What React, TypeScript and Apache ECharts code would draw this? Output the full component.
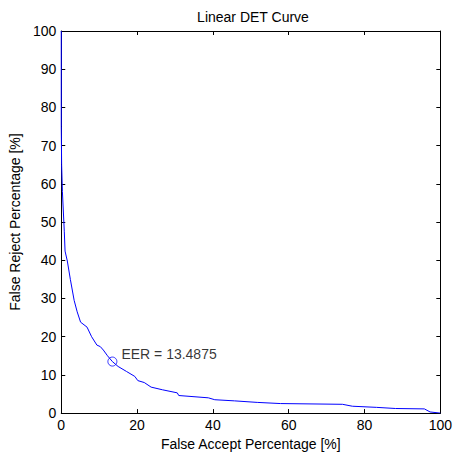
import React, { useEffect, useRef } from "react";
import * as echarts from "echarts";

const falseAccept = [0, 0, 0.1, 0.3, 0.8, 1.0, 1.6, 2.4, 3.4, 4.2, 5.1, 6.8, 8.0, 9.4, 10.3, 11.1, 12.2, 13.4875, 15.0, 17.2, 19.4, 20.2, 21.9, 23.7, 26.7, 30.6, 31.0, 38.8, 40.5, 45.7, 51.7, 57.8, 74.2, 76.8, 83.2, 88.2, 95.8, 97.3, 100];
const falseReject = [100, 75, 65, 58, 47.6, 42.4, 39.8, 35, 29.5, 26.5, 23.8, 22.5, 20, 17.8, 17.4, 16.5, 15, 13.4875, 12.2, 10.9, 9.6, 8.5, 8.0, 6.8, 6.1, 5.3, 4.6, 4.0, 3.5, 3.2, 2.8, 2.5, 2.3, 1.8, 1.5, 1.2, 1.1, 0.3, 0];
const eerValue = 13.4875;
const titleText = "Linear DET Curve";
const xName = "False Accept Percentage [%]";
const yName = "False Reject Percentage [%]";

const FONT = "'Liberation Sans', Arial, Helvetica, sans-serif";

export default function App() {
  const ref = useRef<HTMLDivElement>(null);
  useEffect(() => {
    if (!ref.current) return;
    const chart = echarts.init(ref.current, undefined, { renderer: "svg" });
    const axisCommon = {
      type: "value" as const,
      min: 0,
      max: 100,
      splitLine: { show: false },
      axisLine: { show: true, onZero: false, lineStyle: { color: "#000", width: 1 } },
      axisTick: { show: true, inside: true, length: 4, lineStyle: { color: "#000", width: 1 } },
    };
    chart.setOption({
      animation: false,
      textStyle: { fontFamily: FONT },
      title: {
        text: titleText,
        left: 248,
        top: 5,
        textAlign: "center",
        textStyle: { fontSize: 14, fontWeight: "normal", color: "#000", fontFamily: FONT },
      },
      grid: { left: 57, right: 12, top: 31, bottom: 39, containLabel: false },
      xAxis: [
        {
          ...axisCommon,
          position: "bottom",
          interval: 20,
          axisLabel: { color: "#000", fontSize: 14, margin: 5, fontFamily: FONT },
          name: xName,
          nameLocation: "middle",
          nameGap: 22,
          nameTextStyle: { color: "#000", fontSize: 14, fontFamily: FONT },
        },
        {
          ...axisCommon,
          position: "top",
          interval: 20,
          axisLabel: { show: false },
        },
      ],
      yAxis: [
        {
          ...axisCommon,
          position: "left",
          interval: 10,
          axisLabel: { color: "#000", fontSize: 14, margin: 5, fontFamily: FONT },
          name: yName,
          nameLocation: "middle",
          nameGap: 34,
          nameTextStyle: { color: "#000", fontSize: 14, fontFamily: FONT },
        },
        {
          ...axisCommon,
          position: "right",
          interval: 10,
          axisLabel: { show: false },
        },
      ],
      series: [
        {
          type: "line",
          data: falseAccept.map((x, i) => [x, falseReject[i]]),
          symbol: "none",
          lineStyle: { color: "#0000ff", width: 1 },
          z: 3,
        },
        {
          type: "scatter",
          data: [[eerValue, eerValue]],
          symbol: "circle",
          symbolSize: 9,
          itemStyle: { color: "rgba(0,0,0,0)", borderColor: "#0000ff", borderWidth: 1 },
          label: {
            show: true,
            formatter: "EER = " + eerValue,
            position: "right",
            distance: 4,
            offset: [0, -8],
            color: "#000",
            fontSize: 14,
            fontFamily: FONT,
          },
          z: 4,
        },
      ],
    });
    return () => chart.dispose();
  }, []);
  return (
    <div
      ref={ref}
      style={{ position: "fixed", left: 0, top: 0, width: 455, height: 456, background: "#fff" }}
    />
  );
}
